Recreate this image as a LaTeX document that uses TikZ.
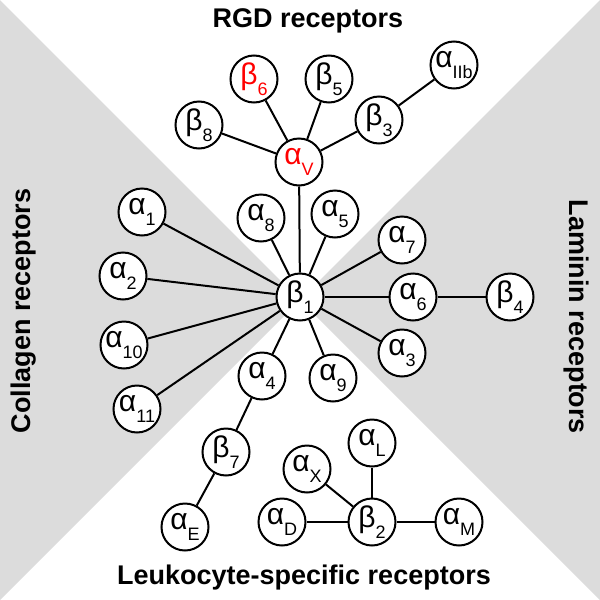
\documentclass[tikz,border=0pt]{standalone}
\usepackage{fontspec}
\setmainfont{Liberation Sans}
\usepackage{tikz}
\definecolor{quadgray}{RGB}{220,220,220}
\newcommand{\sbs}[1]{\raisebox{-0.36em}{\fontsize{18}{18}\selectfont #1}}
\tikzset{integrin/.style={
    draw, circle,
    line width=2pt,
    minimum size=47pt,
    inner sep=0pt,
    fill=white,
    font=\fontsize{30}{30}\selectfont
  },
  link/.style={line width=2pt},
  heading/.style={font=\bfseries\fontsize{27}{27}\selectfont, inner sep=0pt}
}

\begin{document}
\begin{tikzpicture}[x=1pt,y=-1pt]
        \useasboundingbox (0,0) rectangle (600,600);
        \fill[quadgray] (0,0) -- (300,300) -- (0,600) -- cycle;
        \fill[quadgray] (600,0) -- (300,300) -- (600,600) -- cycle;

        \node[heading] (rgd) at (308,21) {RGD receptors};
        \node[heading, rotate=90] (col) at (24,311) {Collagen receptors};
        \node[heading, rotate=-90] (lam) at (576,317) {Laminin receptors};
        \node[heading] (leu) at (304,578) {Leukocyte-specific receptors};

        \node[integrin] (b1) at (300,297) {β\sbs{1}};
        \node[integrin, text=red] (av) at (299,162) {α\sbs{V}};
        \node[integrin, text=red] (b6) at (254,79) {β\sbs{6}};
        \node[integrin] (b8) at (199,125) {β\sbs{8}};
        \node[integrin] (b5) at (329,79) {β\sbs{5}};
        \node[integrin] (b3) at (379,120) {β\sbs{3}};
        \node[integrin] (aIIb) at (454,65) {α\sbs{IIb}};
        \node[integrin] (a8) at (261,218) {α\sbs{8}};
        \node[integrin] (a5) at (335,214) {α\sbs{5}};
        \node[integrin] (a1) at (142,212) {α\sbs{1}};
        \node[integrin] (a2) at (123,276) {α\sbs{2}};
        \node[integrin] (a10) at (124,345) {α\sbs{10}};
        \node[integrin] (a11) at (137,409) {α\sbs{11}};
        \node[integrin] (a7) at (402,240) {α\sbs{7}};
        \node[integrin] (a6) at (413,297) {α\sbs{6}};
        \node[integrin] (b4) at (510,297) {β\sbs{4}};
        \node[integrin] (a3) at (402,353) {α\sbs{3}};
        \node[integrin] (a9) at (333,378) {α\sbs{9}};
        \node[integrin] (a4) at (262,376) {α\sbs{4}};
        \node[integrin] (b7) at (226,452) {β\sbs{7}};
        \node[integrin] (aE) at (185,527) {α\sbs{E}};
        \node[integrin] (aX) at (307,469) {α\sbs{X}};
        \node[integrin] (aL) at (372,443) {α\sbs{L}};
        \node[integrin] (aD) at (282,522) {α\sbs{D}};
        \node[integrin] (b2) at (372,522) {β\sbs{2}};
        \node[integrin] (aM) at (459,522) {α\sbs{M}};

        \foreach \n in {b6,b8,b5,b3,b1}
            \draw[link] (av) -- (\n);
        \draw[link] (b3) -- (aIIb);
        \foreach \n in {a8,a5,a1,a2,a10,a11,a7,a6,a3,a9,a4}
            \draw[link] (b1) -- (\n);
        \draw[link] (a6) -- (b4);
        \draw[link] (a4) -- (b7);
        \draw[link] (b7) -- (aE);
        \foreach \n in {aD,aX,aL,aM}
            \draw[link] (b2) -- (\n);
    \end{tikzpicture}
\end{document}
